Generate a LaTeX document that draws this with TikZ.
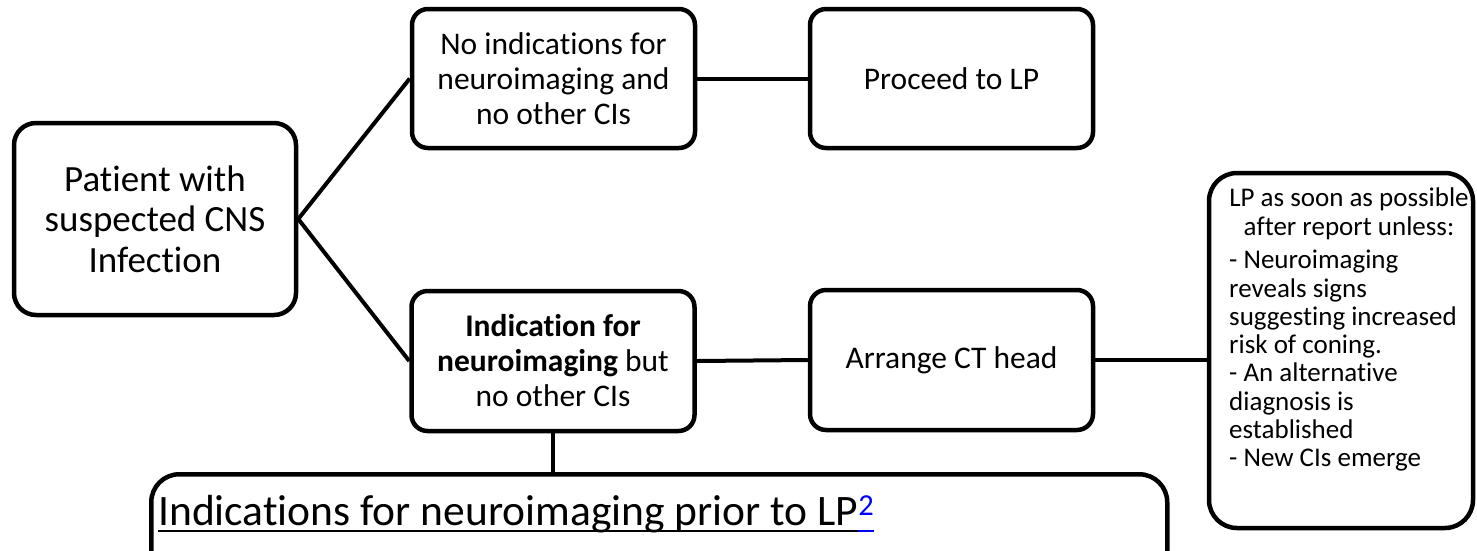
\documentclass[tikz,border=0pt]{standalone}
\usepackage{fontspec}
\setmainfont{Carlito}[Ligatures={NoCommon,NoContextual}]
\newcommand\myul[1]{\setbox0\hbox{#1}\rlap{\rule[-7pt]{\wd0}{2.2pt}}\box0}
\begin{document}
\begin{tikzpicture}[x=1pt,y=-1pt,
  box/.style={draw, line width=4.5pt, rounded corners=16pt, align=center, inner sep=0pt,
    font=\fontsize{31.5}{35}\selectfont},
  link/.style={line width=4pt}]
\useasboundingbox[fill=white] (0,0) rectangle (1477,550);

\node[box, minimum width=282, minimum height=192, rounded corners=22pt,
  font=\fontsize{37}{40.5}\selectfont] (patient) at (155,219)
  {Patient with\\suspected CNS\\Infection};
\node[box, minimum width=283, minimum height=139] (noind) at (553.5,78.5)
  {No indications for\\neuroimaging and\\no other CIs};
\node[box, minimum width=283, minimum height=139] (proceed) at (951.5,78.5)
  {Proceed to LP};
\node[box, minimum width=283, minimum height=140] (indic) at (553,361)
  {\textbf{Indication for}\\\textbf{neuroimaging} but\\no other CIs};
\node[box, minimum width=283, minimum height=140] (arrange) at (951.5,360)
  {Arrange CT head};
\node[box, minimum width=264, minimum height=355, rounded corners=28pt] (rbox) at (1341,350.5) {};
\node[anchor=north, align=center, inner sep=0pt, font=\fontsize{27}{28.3}\selectfont] (rhead) at (1349,188)
  {LP as soon as possible\\after report unless:};
\node[anchor=north west, align=left, inner sep=0pt, font=\fontsize{27}{28.3}\selectfont] (rlist) at (1229,250)
  {- Neuroimaging\\reveals signs\\suggesting increased\\risk of coning.\\- An alternative\\diagnosis is\\established\\- New CIs emerge};
\node[box, anchor=north west, minimum width=1016, minimum height=150, rounded corners=28pt] (bigbox) at (149,472) {};
\node[anchor=base west, inner sep=0pt, font=\fontsize{43.5}{48}\selectfont] (title) at (158,525)
  {\myul{Indications for neuroimaging prior to LP}\textcolor{blue}{\myul{\textsuperscript{2}}}};

\draw[link] (patient.east) -- (noind.west);
\draw[link] (patient.east) -- (indic.west);
\draw[link] (noind.east) -- (proceed.west);
\draw[link] (indic.east) -- (arrange.west);
\draw[link] (arrange.east) -- (arrange.east -| rbox.west);
\draw[link] (indic.south) -- (indic.south |- bigbox.north);
\end{tikzpicture}
\end{document}
